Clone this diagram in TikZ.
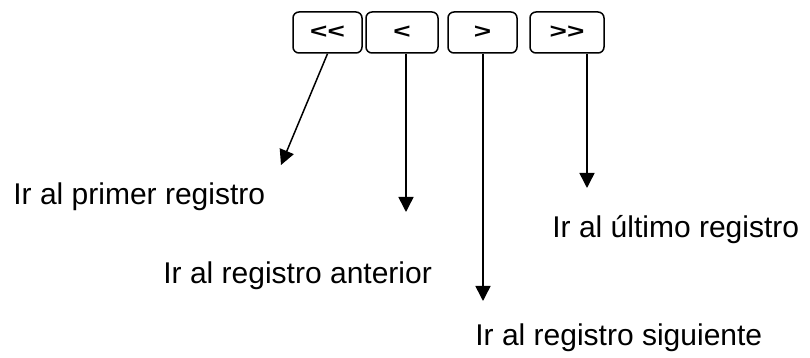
\documentclass[tikz,border=0pt]{standalone}
\usepackage{fontspec}
\setmainfont{Liberation Sans}
\usepackage{tikz}
\usetikzlibrary{arrows.meta}
\newcommand{\navsym}[1]{\scalebox{1.35}[0.95]{#1}}
\tikzset{
  navbtn/.style={draw,line width=0.75pt,rounded corners=3pt,minimum height=20.5pt,
    inner sep=0pt,font=\fontsize{11pt}{11pt}\selectfont\bfseries},
  navtxt/.style={anchor=base west,inner sep=0pt,font=\fontsize{15pt}{18pt}\selectfont},
  navarr/.style={line width=0.75pt,-{Triangle[width=7.5pt,length=7.5pt]}}
}

\begin{document}
\begin{tikzpicture}[x=0.5pt,y=-0.5pt]
    \useasboundingbox (0,0) rectangle (810,358);
    \node[navbtn,minimum width=34.5pt] (first) at (327.5,32.5) {\navsym{{<}{<}}};
    \node[navbtn,minimum width=36pt] (prev) at (402,32.5) {\navsym{<}};
    \node[navbtn,minimum width=34.5pt] (next) at (482.5,32.5) {\navsym{>}};
    \node[navbtn,minimum width=37pt] (last) at (567,32.5) {\navsym{{>}{>}}};
    \coordinate (tfirst) at (281,165);
    \coordinate (tprev) at (406,212);
    \coordinate (tnext) at (483,301);
    \coordinate (tlast) at (587,188);
    \draw[navarr] (first.south) -- (tfirst);
    \draw[navarr] (prev.south -| tprev) -- (tprev);
    \draw[navarr] (next.south -| tnext) -- (tnext);
    \draw[navarr] (last.south -| tlast) -- (tlast);
    \node[navtxt] (lfirst) at (13,205) {Ir al primer registro};
    \node[navtxt] (lprev) at (163,284) {Ir al registro anterior};
    \node[navtxt] (lnext) at (475,345) {Ir al registro siguiente};
    \node[navtxt] (llast) at (552,238) {Ir al último registro};
  \end{tikzpicture}
\end{document}
